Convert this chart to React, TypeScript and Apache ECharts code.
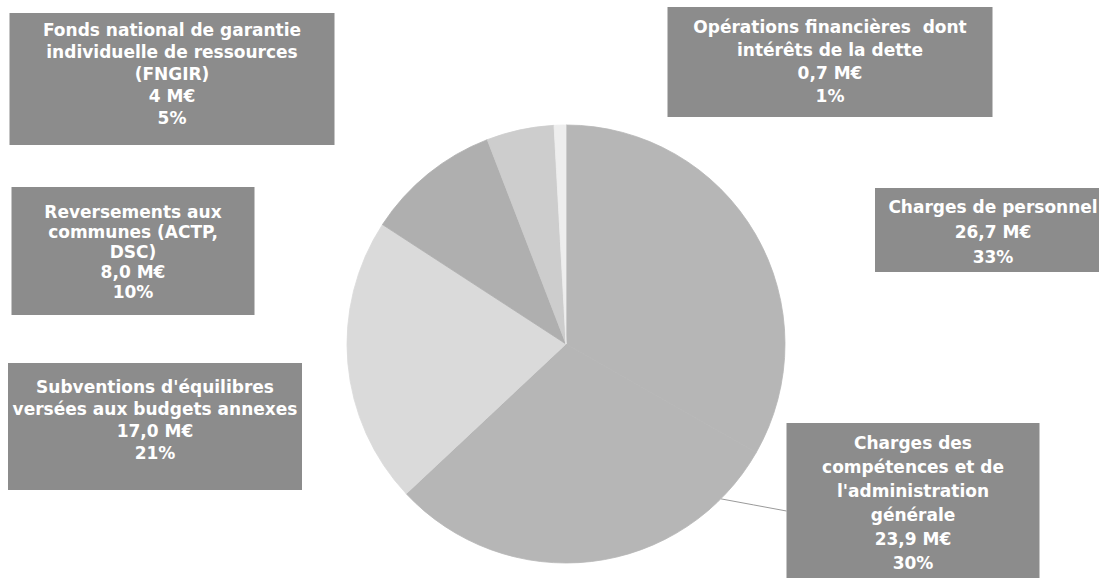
import React, { useEffect, useRef } from "react";
import * as echarts from "echarts";

// ---- data ----
const categories = [
  "Charges de personnel",
  "Charges des\ncompétences et de\nl'administration\ngénérale",
  "Subventions d'équilibres\nversées aux budgets annexes",
  "Reversements aux\ncommunes (ACTP,\nDSC)",
  "Fonds national de garantie\nindividuelle de ressources\n(FNGIR)",
  "Opérations financières  dont\nintérêts de la dette",
];
const values = [26.7, 23.9, 17.0, 8.0, 4, 0.7];
const decimals = [1, 1, 1, 1, 0, 1];

// ---- styles / layout ----
const sliceColors = ["#b6b6b6", "#b6b6b6", "#dadada", "#afafaf", "#cdcdcd", "#eeeeee"];
const boxColor = "#8c8c8c";
// [centerX, top, width, height, lineHeight, paddingTop]
const boxLayout = [
  [993, 188, 236, 84, 25, 6],
  [913, 423, 253, 162, 24, 8],
  [155, 363, 294, 127, 22, 13],
  [133, 187, 243, 128, 20, 15],
  [172, 13, 325, 132, 22, 6],
  [830, 7, 325, 110, 23, 8],
];
const pieCenter = [566, 344];
const pieRadius = 219;

const total = values.reduce((a, b) => a + b, 0);

function fmtValue(v: number, d: number) {
  return v.toFixed(d).replace(".", ",");
}

export default function App() {
  const ref = useRef<HTMLDivElement>(null);
  useEffect(() => {
    if (!ref.current) return;
    const chart = echarts.init(ref.current, null, { renderer: "svg" });
    const data = categories.map((name, i) => {
      const [cx, top, w, h, lh, pt] = boxLayout[i];
      const lines = name.split("\n").length + 2;
      const pb = Math.max(0, h - pt - lines * lh);
      return {
        name,
        value: values[i],
        itemStyle: { color: sliceColors[i], borderColor: sliceColors[i], borderWidth: 0.8 },
        label: {
          width: w,
          lineHeight: lh,
          padding: [pt, 0, pb, 0],
        },
        labelLine: { show: i === 1 },
      };
    });
    chart.setOption({
      animation: false,
      backgroundColor: "#ffffff",
      series: [
        {
          type: "pie",
          center: pieCenter,
          radius: pieRadius,
          startAngle: 90,
          clockwise: true,
          avoidLabelOverlap: false,
          data,
          emphasis: { disabled: true },
          label: {
            show: true,
            position: "outside",
            overflow: "none",
            color: "#ffffff",
            fontFamily: "DejaVu Sans",
            fontWeight: "bold",
            fontSize: 17,
            align: "center",
            backgroundColor: boxColor,
            formatter: (p: any) => {
              const i = p.dataIndex;
              const pct = Math.round((values[i] / total) * 100);
              return `${categories[i]}\n${fmtValue(values[i], decimals[i])} M€\n${pct}%`;
            },
          },
          labelLine: {
            lineStyle: { color: "#9a9a9a", width: 1 },
          },
          labelLayout: (params: any) => {
            const i = params.dataIndex;
            const [cx, top, w] = boxLayout[i];
            const res: any = { x: cx, y: top, align: "center", verticalAlign: "top" };
            if (i === 1) {
              const a = (135 * Math.PI) / 180;
              const sx = pieCenter[0] + pieRadius * Math.sin(a);
              const sy = pieCenter[1] - pieRadius * Math.cos(a);
              const ex = cx - w / 2;
              const ey = 511;
              res.labelLinePoints = [
                [sx, sy],
                [(sx + ex) / 2, (sy + ey) / 2],
                [ex, ey],
              ];
            }
            return res;
          },
        },
      ],
    });
    return () => chart.dispose();
  }, []);
  return (
    <div
      ref={ref}
      style={{ position: "fixed", left: 0, top: 0, width: 1099, height: 578 }}
    />
  );
}
